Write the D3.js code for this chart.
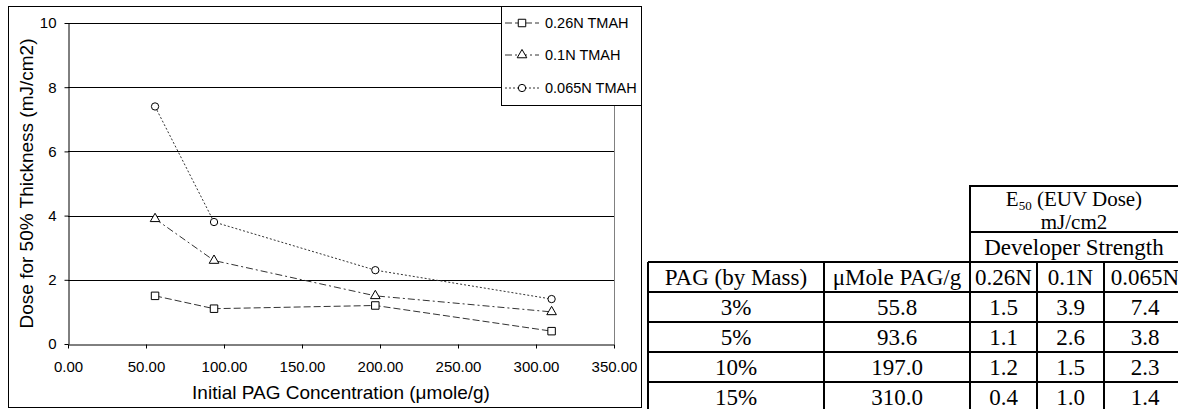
<!DOCTYPE html>
<html>
<head>
<meta charset="utf-8">
<script src="https://cdn.jsdelivr.net/npm/d3@7"></script>
<style>
  body { margin: 0; background: #fff; }
  svg { display: block; }
</style>
</head>
<body>
<div id="chart"></div>
<script>
document.addEventListener("DOMContentLoaded", function () {
    // data
    const pagMass = ["3%", "5%", "10%", "15%"];
    const concentration = [55.8, 93.6, 197.0, 310.0];
    const dose026 = [1.5, 1.1, 1.2, 0.4];
    const dose01 = [3.9, 2.6, 1.5, 1.0];
    const dose0065 = [7.4, 3.8, 2.3, 1.4];
    const seriesNames = ["0.26N TMAH", "0.1N TMAH", "0.065N TMAH"];
    const developerNames = ["0.26N", "0.1N", "0.065N"];
    const xTicks = [0, 50, 100, 150, 200, 250, 300, 350];
    const yTicks = [0, 2, 4, 6, 8, 10];

    const width = 1178;
    const height = 409;
    const plot = { left: 68, right: 614, top: 23, bottom: 344 };
    const sans = "Liberation Sans, Arial, sans-serif";

    const svg = d3.select("#chart")
        .append("svg")
        .attr("width", width)
        .attr("height", height);

    const x = d3.scaleLinear().domain([0, 350]).range([plot.left, plot.right]);
    const y = d3.scaleLinear().domain([0, 10]).range([plot.bottom, plot.top]);

    // chart frame
    svg.append("rect")
        .attr("x", 8.5).attr("y", 6.5)
        .attr("width", 633).attr("height", 401)
        .attr("fill", "#fff").attr("stroke", "#000");

    // plot area border (right side grey)
    svg.append("line")
        .attr("x1", plot.right + 0.5).attr("x2", plot.right + 0.5)
        .attr("y1", plot.top).attr("y2", plot.bottom)
        .attr("stroke", "#808080");

    // gridlines
    svg.append("g")
        .selectAll("line")
        .data(yTicks.filter(d => d > 0))
        .join("line")
        .attr("x1", plot.left).attr("x2", plot.right)
        .attr("y1", d => Math.round(y(d)) + 0.5)
        .attr("y2", d => Math.round(y(d)) + 0.5)
        .attr("stroke", "#000");

    const xAxis = svg.append("g")
        .attr("transform", `translate(0,${plot.bottom + 0.5})`)
        .call(d3.axisBottom(x).tickValues(xTicks).tickFormat(d => d.toFixed(2))
            .tickSizeInner(4).tickSizeOuter(0).tickPadding(13));
    const yAxis = svg.append("g")
        .attr("transform", `translate(${plot.left + 0.5},0)`)
        .call(d3.axisLeft(y).tickValues(yTicks).tickFormat(d3.format("d"))
            .tickSizeInner(4).tickSizeOuter(0).tickPadding(8));

    [xAxis, yAxis].forEach(g => {
        g.selectAll("text")
            .attr("font-family", sans)
            .attr("font-size", 15)
            .attr("fill", "#000");
        g.selectAll("line, path").attr("stroke", "#000");
    });

    svg.append("text")
        .attr("x", (plot.left + plot.right) / 2)
        .attr("y", 399)
        .attr("text-anchor", "middle")
        .attr("font-family", sans)
        .attr("font-size", 19)
        .text("Initial PAG Concentration (μmole/g)");

    svg.append("text")
        .attr("transform", `translate(33,${(plot.top + plot.bottom) / 2}) rotate(-90)`)
        .attr("text-anchor", "middle")
        .attr("font-family", sans)
        .attr("font-size", 19)
        .text("Dose for 50% Thickness (mJ/cm2)");

    const series = [
        { name: seriesNames[0], values: dose026, dash: "7,3", marker: "square" },
        { name: seriesNames[1], values: dose01, dash: "7,3,2,3", marker: "triangle" },
        { name: seriesNames[2], values: dose0065, dash: "2,2", marker: "circle" }
    ];

    const symbolFor = {
        square: d3.symbol(d3.symbolSquare, 56),
        triangle: d3.symbol(d3.symbolTriangle, 40),
        circle: d3.symbol(d3.symbolCircle, 42)
    };

    const line = d3.line()
        .x(d => x(d[0]))
        .y(d => y(d[1]));

    series.forEach(s => {
        const pts = concentration.map((c, i) => [c, s.values[i]]);
        svg.append("path")
            .attr("d", line(pts))
            .attr("fill", "none")
            .attr("stroke", "#333")
            .attr("stroke-width", 1)
            .attr("stroke-dasharray", s.dash);
        svg.append("g")
            .selectAll("path")
            .data(pts)
            .join("path")
            .attr("transform", d => `translate(${x(d[0])},${y(d[1])})`)
            .attr("d", symbolFor[s.marker]())
            .attr("fill", "#fff")
            .attr("stroke", "#000");
    });

    // legend
    const legend = svg.append("g");
    legend.append("rect")
        .attr("x", 501.5).attr("y", 6.5)
        .attr("width", 140).attr("height", 99)
        .attr("fill", "#fff").attr("stroke", "#000");
    const rowY = [23, 55, 88];
    series.forEach((s, i) => {
        legend.append("line")
            .attr("x1", 505).attr("x2", 539)
            .attr("y1", rowY[i]).attr("y2", rowY[i])
            .attr("stroke", "#333")
            .attr("stroke-dasharray", s.dash);
        legend.append("path")
            .attr("transform", `translate(522,${rowY[i]})`)
            .attr("d", symbolFor[s.marker]())
            .attr("fill", "#fff")
            .attr("stroke", "#000");
        legend.append("text")
            .attr("x", 545).attr("y", rowY[i])
            .attr("dy", "0.36em")
            .attr("font-family", sans)
            .attr("font-size", 14.5)
            .text(s.name);
    });

    // table
    const colX = [648, 824, 970, 1037, 1104, 1186];
    const rowTop = [262, 292, 322, 352, 382, 412];
    const serif = "Liberation Serif, Times New Roman, serif";
    const table = svg.append("g").attr("font-family", serif).attr("font-size", 23);

    // header block over the dose columns
    table.append("rect")
        .attr("x", colX[2]).attr("y", 186)
        .attr("width", colX[5] - colX[2]).attr("height", 262 - 186)
        .attr("fill", "none").attr("stroke", "#000").attr("stroke-width", 2);
    table.append("line")
        .attr("x1", colX[2]).attr("x2", colX[5])
        .attr("y1", 232).attr("y2", 232)
        .attr("stroke", "#000").attr("stroke-width", 2);

    const midDose = 1074;
    const e50 = table.append("text")
        .attr("x", midDose).attr("y", 206).attr("text-anchor", "middle")
        .attr("font-size", 21);
    e50.append("tspan").text("E");
    e50.append("tspan").attr("font-size", 13).attr("dy", 4).text("50");
    e50.append("tspan").attr("dy", -4).text(" (EUV Dose)");
    table.append("text")
        .attr("x", midDose).attr("y", 229).attr("text-anchor", "middle")
        .attr("font-size", 21)
        .text("mJ/cm2");
    table.append("text")
        .attr("x", midDose).attr("y", 255).attr("text-anchor", "middle")
        .text("Developer Strength");

    // grid lines
    table.append("g")
        .selectAll("line")
        .data(rowTop)
        .join("line")
        .attr("x1", colX[0]).attr("x2", colX[5])
        .attr("y1", d => d).attr("y2", d => d)
        .attr("stroke", "#000").attr("stroke-width", 2);
    table.append("g")
        .selectAll("line")
        .data(colX)
        .join("line")
        .attr("x1", d => d).attr("x2", d => d)
        .attr("y1", rowTop[0]).attr("y2", rowTop[5])
        .attr("stroke", "#000").attr("stroke-width", 2);

    const headerCells = ["PAG (by Mass)", "μMole PAG/g"].concat(developerNames);
    const bodyRows = pagMass.map((p, i) => [
        p,
        concentration[i].toFixed(1),
        dose026[i].toFixed(1),
        dose01[i].toFixed(1),
        dose0065[i].toFixed(1)
    ]);
    [headerCells].concat(bodyRows).forEach((row, r) => {
        row.forEach((cell, c) => {
            table.append("text")
                .attr("x", (colX[c] + colX[c + 1]) / 2)
                .attr("y", rowTop[r] + 23)
                .attr("text-anchor", "middle")
                .text(cell);
        });
    });
});
</script>
</body>
</html>
